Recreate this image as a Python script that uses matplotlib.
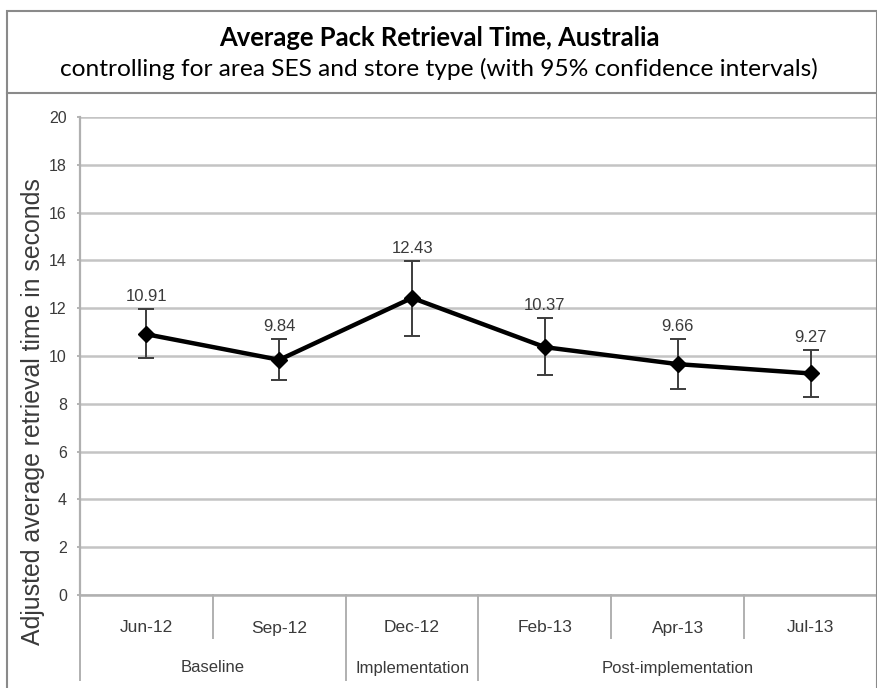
import matplotlib
matplotlib.use("Agg")
import matplotlib.pyplot as plt
from matplotlib.patches import Rectangle
from matplotlib.lines import Line2D
import matplotlib.transforms as mtransforms

# ---- data ----
categories = ["Jun-12", "Sep-12", "Dec-12", "Feb-13", "Apr-13", "Jul-13"]
values = [10.91, 9.84, 12.43, 10.37, 9.66, 9.27]
ci_lower = [9.93, 9.00, 10.84, 9.20, 8.62, 8.30]
ci_upper = [11.97, 10.72, 13.99, 11.58, 10.71, 10.25]
value_labels = ["10.91", "9.84", "12.43", "10.37", "9.66", "9.27"]
groups = ["Baseline", "Implementation", "Post-implementation"]
group_spans = [(0, 1), (2, 2), (3, 5)]
y_ticks = [0, 2, 4, 6, 8, 10, 12, 14, 16, 18, 20]

W, H = 878, 688
fig = plt.figure(figsize=(W / 100, H / 100), dpi=100)

def fx(px):
    return px / W

def fy(py):
    return 1 - py / H

# axes placement (pixels)
left, right, top, bottom = 80, 877, 117, 595
ax = fig.add_axes([fx(left), fy(bottom), fx(right - left), (bottom - top) / H])

x = list(range(len(categories)))
grid_c = "#c4c4c4"
text_c = "#3a3a3a"
afont = "Liberation Sans"

ax.set_xlim(-0.5, len(categories) - 0.5)
ax.set_ylim(0, 20)
ax.set_yticks(y_ticks)
ax.set_yticklabels([str(t) for t in y_ticks], fontsize=11.5, color=text_c, family=afont)
ax.tick_params(axis="y", length=2.5, color="#a8a8a8", width=1.2, pad=7)
ax.set_xticks([])
for s in ["top", "right", "bottom"]:
    ax.spines[s].set_visible(False)
ax.spines["left"].set_color("#b0b0b0")
ax.spines["left"].set_linewidth(1.6)
ax.grid(axis="y", color=grid_c, linewidth=1.8)
ax.set_axisbelow(True)

yerr = [[v - lo for v, lo in zip(values, ci_lower)], [hi - v for v, hi in zip(values, ci_upper)]]
ax.errorbar(x, values, yerr=yerr, fmt="none", ecolor="#3c3c3c", elinewidth=1.4,
            capsize=6, capthick=1.4, zorder=3)
ax.plot(x, values, color="black", linewidth=3.2, marker="D", markersize=8,
        markerfacecolor="black", markeredgecolor="black", zorder=4, solid_joinstyle="miter")

for xi, hi, lab in zip(x, ci_upper, value_labels):
    ax.annotate(lab, (xi, hi), xytext=(0, 3.5), textcoords="offset points",
                ha="center", va="bottom", fontsize=12, color=text_c, family=afont)

# two-level x axis
trans = mtransforms.blended_transform_factory(ax.transData, ax.transAxes)
ax_h = bottom - top
short_y = -(638 - bottom) / ax_h
long_y = -(680 - bottom) / ax_h
cat_y = -(628 - bottom) / ax_h
grp_y = -(668 - bottom) / ax_h

long_bounds = set()
for a, b in group_spans:
    long_bounds.add(a - 0.5)
    long_bounds.add(b + 0.5)
for i in range(len(categories) + 1):
    bx = i - 0.5
    yb = long_y if bx in long_bounds else short_y
    ax.add_line(Line2D([bx, bx], [0, yb], transform=trans, color="#b0b0b0",
                       linewidth=1.4, clip_on=False))
ax.plot([-0.5, len(categories) - 0.5], [0, 0], color="#b0b0b0", linewidth=1.8,
        clip_on=False, zorder=2)

for xi, c in zip(x, categories):
    ax.text(xi, cat_y, c, transform=trans, ha="center", va="center",
            fontsize=12.5, color=text_c, family=afont)
for (a, b), g in zip(group_spans, groups):
    ax.text((a + b) / 2, grp_y, g, transform=trans, ha="center", va="center",
            fontsize=12, color=text_c, family=afont)

# frame and title box
frame_c = "#8a8a8a"
fig.add_artist(Rectangle((fx(7), fy(H + 10)), fx(877 - 7), (H + 10 - 11) / H,
                         transform=fig.transFigure, fill=False, edgecolor=frame_c,
                         linewidth=1.5))
fig.add_artist(Line2D([fx(7), fx(877)], [fy(93), fy(93)], transform=fig.transFigure,
                      color=frame_c, linewidth=1.5))

tfont = ["Lato", "DejaVu Sans"]
title = fig.text(0.5, fy(38), "Average Pack Retrieval Time, Australia", ha="center",
                 va="center", fontsize=16, fontweight="bold", family=tfont, color="black")
sub = fig.text(0.5, fy(69), "controlling for area SES and store type (with 95% confidence intervals)",
               ha="center", va="center", fontsize=16, family=tfont, color="black")
ylab = fig.text(fx(33), fy(412), "Adjusted average retrieval time in seconds", rotation=90,
                ha="center", va="center", fontsize=16, family=afont, color=text_c)

fig.canvas.draw()
r = fig.canvas.get_renderer()
for t, target, dim in [(title, 443, "w"), (sub, 760, "w"), (ylab, 471, "h")]:
    bb = t.get_window_extent(r)
    cur = bb.width if dim == "w" else bb.height
    t.set_fontsize(t.get_fontsize() * target / cur)

fig.savefig("out.png", dpi=100)
